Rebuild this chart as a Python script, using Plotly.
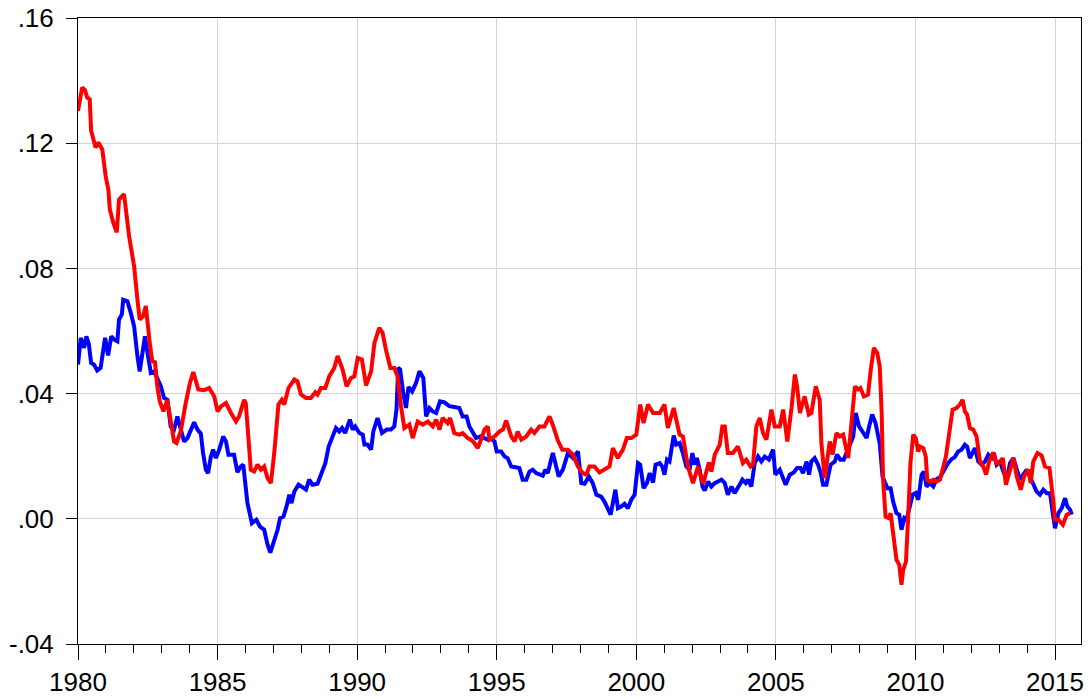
import plotly.graph_objects as go

# decimal years and values
red_t = [1980.0, 1980.15, 1980.25, 1980.33, 1980.42, 1980.47, 1980.63, 1980.73, 1980.87, 1980.99,
         1981.09, 1981.14, 1981.26, 1981.39, 1981.47, 1981.65, 1981.83, 1982.01, 1982.13, 1982.21,
         1982.33, 1982.43, 1982.57, 1982.66, 1982.76, 1982.84, 1982.93, 1983.06, 1983.20, 1983.32,
         1983.44, 1983.53, 1983.68, 1983.86, 1984.01, 1984.13, 1984.31, 1984.52, 1984.70, 1984.88,
         1985.0, 1985.12, 1985.30, 1985.48, 1985.66, 1985.77, 1985.95, 1986.01, 1986.19, 1986.31,
         1986.43, 1986.55, 1986.67, 1986.79, 1986.91, 1987.03, 1987.18, 1987.30, 1987.39, 1987.54,
         1987.75, 1987.86, 1987.99, 1988.17, 1988.34, 1988.50, 1988.58, 1988.70, 1988.86, 1989.00,
         1989.18, 1989.30, 1989.48, 1989.62, 1989.78, 1989.90, 1990.02, 1990.17, 1990.32, 1990.50,
         1990.62, 1990.79, 1990.91, 1991.03, 1991.19, 1991.33, 1991.45, 1991.57, 1991.69, 1991.87,
         1991.99, 1992.17, 1992.35, 1992.53, 1992.71, 1992.83, 1992.95, 1993.06, 1993.24, 1993.33,
         1993.48, 1993.66, 1993.78, 1993.96, 1994.08, 1994.20, 1994.32, 1994.44, 1994.56, 1994.68,
         1994.74, 1994.92, 1995.10, 1995.22, 1995.34, 1995.52, 1995.64, 1995.75, 1995.88, 1996.06,
         1996.23, 1996.35, 1996.53, 1996.71, 1996.89, 1997.01, 1997.19, 1997.35, 1997.55, 1997.73,
         1997.91, 1998.08, 1998.21, 1998.32, 1998.50, 1998.68, 1998.86, 1999.04, 1999.16, 1999.34,
         1999.52, 1999.66, 1999.82, 2000.00, 2000.14, 2000.26, 2000.42, 2000.60, 2000.84, 2001.01,
         2001.13, 2001.34, 2001.55, 2001.67, 2001.85, 2002.03, 2002.21, 2002.39, 2002.60, 2002.69,
         2002.81, 2002.99, 2003.08, 2003.17, 2003.28, 2003.46, 2003.64, 2003.82, 2003.94, 2004.09,
         2004.18, 2004.30, 2004.42, 2004.54, 2004.66, 2004.84, 2004.96, 2005.14, 2005.26, 2005.41,
         2005.56, 2005.68, 2005.76, 2005.86, 2006.03, 2006.18, 2006.27, 2006.43, 2006.57, 2006.63,
         2006.75, 2006.93, 2007.03, 2007.17, 2007.29, 2007.41, 2007.59, 2007.71, 2007.83, 2007.95,
         2008.03, 2008.15, 2008.30, 2008.40, 2008.51, 2008.63, 2008.72, 2008.79, 2008.84, 2008.93,
         2009.05, 2009.11, 2009.20, 2009.32, 2009.42, 2009.50, 2009.56, 2009.66, 2009.74, 2009.82,
         2009.92, 2010.01, 2010.10, 2010.16, 2010.28, 2010.37, 2010.42, 2010.52, 2010.64, 2010.76,
         2010.88, 2010.99, 2011.09, 2011.21, 2011.33, 2011.47, 2011.59, 2011.69, 2011.77, 2011.85,
         2011.95, 2012.07, 2012.19, 2012.31, 2012.43, 2012.53, 2012.64, 2012.79, 2012.89, 2013.00,
         2013.13, 2013.24, 2013.36, 2013.51, 2013.63, 2013.77, 2013.89, 2014.04, 2014.13, 2014.22,
         2014.37, 2014.52, 2014.64, 2014.80, 2014.92, 2015.00, 2015.12, 2015.28, 2015.42, 2015.54]
red_v = [0.1303, 0.1378, 0.137, 0.1346, 0.134, 0.124, 0.1186, 0.1202, 0.118, 0.1095,
         0.105, 0.0989, 0.0947, 0.0915, 0.102, 0.1037, 0.0903, 0.0807, 0.070, 0.0637,
         0.0647, 0.068, 0.0562, 0.0503, 0.050, 0.0423, 0.0375, 0.0343, 0.038, 0.0306,
         0.0247, 0.0242, 0.0279, 0.037, 0.0434, 0.0469, 0.0413, 0.0411, 0.0418, 0.0391,
         0.0343, 0.0359, 0.037, 0.0338, 0.0311, 0.0327, 0.038, 0.037, 0.0157, 0.0151,
         0.0173, 0.0157, 0.0167, 0.013, 0.0114, 0.021, 0.0365, 0.038, 0.0365, 0.0418,
         0.0445, 0.0439, 0.0397, 0.0386, 0.0386, 0.0404, 0.0397, 0.0418, 0.0418, 0.0455,
         0.0482, 0.052, 0.0477, 0.0423, 0.045, 0.0455, 0.0514, 0.0509, 0.0426, 0.0471,
         0.0562, 0.061, 0.0594, 0.0541, 0.0482, 0.0482, 0.0455, 0.036, 0.029, 0.0301,
         0.0258, 0.0311, 0.0301, 0.0311, 0.0295, 0.0317, 0.0285, 0.0322, 0.0306, 0.0322,
         0.0274, 0.0269, 0.0274, 0.0258, 0.0253, 0.0242, 0.0226, 0.0253, 0.0285, 0.0295,
         0.0253, 0.0263, 0.0279, 0.0285, 0.0314, 0.0263, 0.0247, 0.0279, 0.0253, 0.0263,
         0.0285, 0.0274, 0.0295, 0.0295, 0.0327, 0.030, 0.025, 0.0221, 0.0221, 0.0205,
         0.0167, 0.0146, 0.0141, 0.0167, 0.0167, 0.0148, 0.0159, 0.0167, 0.0226, 0.0194,
         0.0221, 0.0258, 0.0258, 0.0269, 0.0365, 0.0306, 0.0365, 0.0338, 0.0338, 0.0365,
         0.029, 0.0354, 0.0269, 0.0263, 0.0167, 0.0114, 0.0167, 0.0112, 0.018, 0.0151,
         0.0205, 0.0237, 0.0295, 0.0295, 0.021, 0.021, 0.0231, 0.0178, 0.0189, 0.0167,
         0.0173, 0.0295, 0.0322, 0.0274, 0.0253, 0.0349, 0.0295, 0.0295, 0.0349, 0.0247,
         0.0354, 0.0461, 0.0423, 0.0338, 0.0391, 0.0333, 0.0338, 0.0423, 0.038, 0.0242,
         0.013, 0.0247, 0.0205, 0.0274, 0.0263, 0.0269, 0.0194, 0.0306, 0.0423, 0.0413,
         0.0418, 0.0391, 0.0397, 0.0477, 0.0546, 0.053, 0.0487, 0.0338, 0.0125, 0.0007,
         0.0002, 0.0018, -0.0046, -0.0131, -0.0147, -0.0211, -0.0163, -0.0137, 0.0007, 0.0178,
         0.0269, 0.0258, 0.0215, 0.0231, 0.0226, 0.0199, 0.0125, 0.0119, 0.0125, 0.0119,
         0.0125, 0.0167, 0.0199, 0.0274, 0.0349, 0.0354, 0.0365, 0.038, 0.0343, 0.0333,
         0.029, 0.0285, 0.0263, 0.0183, 0.0167, 0.0141, 0.0183, 0.0212, 0.0178, 0.0178,
         0.0194, 0.0109, 0.0146, 0.0194, 0.0135, 0.0093, 0.0135, 0.0157, 0.0114, 0.0183,
         0.021, 0.0202, 0.0167, 0.0162, 0.0071, -0.0003, -0.0003, -0.0019, 0.0013, 0.0018]

blue_t = [1980.0, 1980.10, 1980.22, 1980.30, 1980.39, 1980.47, 1980.57, 1980.69, 1980.81, 1980.87,
          1980.97, 1981.08, 1981.19, 1981.29, 1981.41, 1981.47, 1981.57, 1981.62, 1981.77, 1981.89,
          1982.01, 1982.13, 1982.21, 1982.31, 1982.40, 1982.49, 1982.61, 1982.73, 1982.84, 1982.97,
          1983.08, 1983.20, 1983.32, 1983.44, 1983.56, 1983.68, 1983.80, 1983.92, 1984.04, 1984.16,
          1984.28, 1984.40, 1984.48, 1984.58, 1984.66, 1984.76, 1984.84, 1984.94, 1985.06, 1985.20,
          1985.30, 1985.39, 1985.59, 1985.71, 1985.83, 1985.92, 1986.07, 1986.23, 1986.39, 1986.52,
          1986.67, 1986.79, 1986.89, 1987.03, 1987.15, 1987.24, 1987.36, 1987.47, 1987.57, 1987.65,
          1987.75, 1987.90, 1988.02, 1988.17, 1988.28, 1988.40, 1988.58, 1988.70, 1988.86, 1988.98,
          1989.12, 1989.24, 1989.36, 1989.46, 1989.57, 1989.74, 1989.84, 1989.93, 1990.08, 1990.20,
          1990.26, 1990.37, 1990.50, 1990.58, 1990.73, 1990.89, 1991.06, 1991.21, 1991.33, 1991.41,
          1991.47, 1991.54, 1991.65, 1991.75, 1991.84, 1991.97, 1992.11, 1992.23, 1992.37, 1992.47,
          1992.59, 1992.71, 1992.83, 1992.97, 1993.13, 1993.30, 1993.48, 1993.66, 1993.78, 1993.92,
          1994.02, 1994.14, 1994.26, 1994.41, 1994.56, 1994.68, 1994.80, 1994.92, 1995.00, 1995.16,
          1995.28, 1995.39, 1995.52, 1995.70, 1995.81, 1995.93, 1996.06, 1996.17, 1996.29, 1996.41,
          1996.53, 1996.65, 1996.74, 1996.83, 1996.93, 1997.01, 1997.13, 1997.22, 1997.37, 1997.55,
          1997.73, 1997.91, 1998.03, 1998.15, 1998.30, 1998.44, 1998.57, 1998.74, 1998.86, 1998.98,
          1999.08, 1999.16, 1999.25, 1999.34, 1999.46, 1999.58, 1999.70, 1999.82, 1999.94, 2000.06,
          2000.14, 2000.26, 2000.38, 2000.48, 2000.60, 2000.69, 2000.84, 2000.93, 2001.01, 2001.10,
          2001.19, 2001.34, 2001.43, 2001.55, 2001.67, 2001.79, 2001.91, 2002.01, 2002.09, 2002.17,
          2002.27, 2002.37, 2002.45, 2002.57, 2002.69, 2002.81, 2002.93, 2003.05, 2003.17, 2003.28,
          2003.41, 2003.52, 2003.70, 2003.80, 2003.92, 2004.00, 2004.12, 2004.24, 2004.36, 2004.48,
          2004.60, 2004.75, 2004.90, 2004.98, 2005.14, 2005.24, 2005.35, 2005.50, 2005.64, 2005.76,
          2005.88, 2005.97, 2006.10, 2006.19, 2006.27, 2006.39, 2006.51, 2006.61, 2006.69, 2006.81,
          2006.96, 2007.11, 2007.19, 2007.31, 2007.43, 2007.55, 2007.67, 2007.77, 2007.86, 2007.98,
          2008.10, 2008.25, 2008.34, 2008.45, 2008.57, 2008.72, 2008.82, 2008.90, 2008.99, 2009.11,
          2009.20, 2009.32, 2009.42, 2009.50, 2009.60, 2009.68, 2009.78, 2009.90, 2010.01, 2010.10,
          2010.22, 2010.30, 2010.40, 2010.52, 2010.64, 2010.76, 2010.88, 2011.02, 2011.17, 2011.30,
          2011.41, 2011.53, 2011.65, 2011.77, 2011.85, 2011.95, 2012.05, 2012.13, 2012.25, 2012.37,
          2012.49, 2012.61, 2012.73, 2012.81, 2012.91, 2013.03, 2013.15, 2013.27, 2013.39, 2013.51,
          2013.63, 2013.74, 2013.86, 2013.99, 2014.10, 2014.22, 2014.34, 2014.46, 2014.58, 2014.70,
          2014.82, 2014.92, 2015.00, 2015.12, 2015.24, 2015.36, 2015.44, 2015.54, 2015.60]
blue_v = [0.0493, 0.0578, 0.0546, 0.0583, 0.0557, 0.0498, 0.0493, 0.0474, 0.0482, 0.0519,
          0.0578, 0.0522, 0.0583, 0.0573, 0.0567, 0.0637, 0.0653, 0.070, 0.0695, 0.0658,
          0.0615, 0.0519, 0.0471, 0.053, 0.0583, 0.053, 0.0466, 0.0471, 0.045, 0.0423,
          0.0386, 0.038, 0.0295, 0.0285, 0.0327, 0.029, 0.0247, 0.0258, 0.0285, 0.0308,
          0.0285, 0.0272, 0.021, 0.0157, 0.0146, 0.0199, 0.0221, 0.0194, 0.0221, 0.0263,
          0.0247, 0.0205, 0.0205, 0.0149, 0.0167, 0.0173, 0.005, -0.0014, -0.0003, -0.0025,
          -0.0035, -0.0083, -0.0108, -0.0073, -0.0035, 0.0002, 0.0007, 0.0039, 0.0077, 0.005,
          0.0087, 0.0109, 0.0103, 0.0093, 0.0125, 0.0109, 0.0112, 0.0141, 0.0178, 0.0231,
          0.0263, 0.029, 0.0279, 0.029, 0.0274, 0.0317, 0.0285, 0.0295, 0.0274, 0.0269,
          0.0237, 0.0237, 0.0221, 0.0279, 0.0322, 0.0274, 0.0285, 0.0285, 0.0295, 0.0349,
          0.0482, 0.0477, 0.0402, 0.0354, 0.0421, 0.0407, 0.0434, 0.0471, 0.045, 0.0327,
          0.0354, 0.0343, 0.0338, 0.0375, 0.0372, 0.036, 0.0357, 0.0354, 0.0327, 0.0327,
          0.0295, 0.0274, 0.0258, 0.0263, 0.0258, 0.0253, 0.0255, 0.0247, 0.0215, 0.0215,
          0.0199, 0.0194, 0.0167, 0.0162, 0.0162, 0.0125, 0.0125, 0.0151, 0.0157, 0.0146,
          0.0141, 0.0138, 0.0157, 0.0146, 0.0183, 0.021, 0.0167, 0.0135, 0.0157, 0.021,
          0.0194, 0.0215, 0.0114, 0.0112, 0.0135, 0.0114, 0.0077, 0.0071, 0.0055, 0.0029,
          0.0013, 0.005, 0.0093, 0.0034, 0.0039, 0.0048, 0.0034, 0.0061, 0.0077, 0.0178,
          0.0173, 0.0098, 0.0114, 0.0146, 0.0116, 0.0173, 0.0178, 0.0167, 0.0141, 0.0189,
          0.0183, 0.0266, 0.0237, 0.0242, 0.021, 0.0167, 0.0157, 0.021, 0.0173, 0.0194,
          0.0157, 0.0103, 0.009, 0.0119, 0.0103, 0.0114, 0.0119, 0.0125, 0.0114, 0.0077,
          0.0103, 0.0082, 0.0109, 0.0125, 0.0114, 0.0125, 0.0103, 0.0178, 0.0199, 0.0183,
          0.0199, 0.0189, 0.0221, 0.0141, 0.0157, 0.013, 0.0109, 0.0141, 0.0148, 0.0162,
          0.0162, 0.0146, 0.0183, 0.0141, 0.0183, 0.0194, 0.0173, 0.0146, 0.0109, 0.0109,
          0.0173, 0.0183, 0.0205, 0.0189, 0.0189, 0.0215, 0.0242, 0.0263, 0.0338, 0.0295,
          0.0279, 0.0258, 0.0295, 0.0333, 0.0306, 0.024, 0.0135, 0.0119, 0.0098, 0.0098,
          0.0055, 0.0018, 0.0013, -0.0035, 0.0002, -0.0003, 0.0029, 0.0077, 0.0082, 0.0061,
          0.0141, 0.0151, 0.0103, 0.0114, 0.0103, 0.0127, 0.0133, 0.0157, 0.0178, 0.0191,
          0.0197, 0.0215, 0.0221, 0.0237, 0.0231, 0.0194, 0.021, 0.0226, 0.0183, 0.0173,
          0.0183, 0.0205, 0.0194, 0.021, 0.0173, 0.0183, 0.0151, 0.0125, 0.0178, 0.0194,
          0.0157, 0.0125, 0.0141, 0.0157, 0.0135, 0.0114, 0.0087, 0.0077, 0.0093, 0.0082,
          0.0082, 0.0018, -0.003, 0.0018, 0.0034, 0.0066, 0.0039, 0.0029, 0.0013]

y_ticks = [-0.04, 0.0, 0.04, 0.08, 0.12, 0.16]
y_tick_labels = ["-.04", ".00", ".04", ".08", ".12", ".16"]

FONT = "Liberation Sans, Arial, Helvetica, sans-serif"

fig = go.Figure()
fig.add_trace(go.Scatter(x=blue_t, y=blue_v, mode="lines",
                         line=dict(color="#0000FF", width=4), showlegend=False))
fig.add_trace(go.Scatter(x=red_t, y=red_v, mode="lines",
                         line=dict(color="#FF0000", width=4), showlegend=False))

fig.update_layout(
    width=1092, height=699,
    margin=dict(l=78, r=11, t=18, b=55),
    paper_bgcolor="white", plot_bgcolor="white",
    font=dict(family=FONT, size=26, color="black"),
)
fig.update_xaxes(
    range=[1980, 2015.93], tick0=1980, dtick=5, tickformat="d", automargin=False,
    ticks="outside", ticklen=15, tickwidth=1, tickcolor="black",
    showline=True, linecolor="black", linewidth=1, mirror=True,
    showgrid=True, gridcolor="#d4d4d4", gridwidth=1, zeroline=False,
    minor=dict(dtick=1, tick0=1980, ticks="outside", ticklen=8, tickcolor="black", showgrid=False),
    tickfont=dict(family=FONT, size=26),
)
fig.update_yaxes(
    range=[-0.04, 0.16], tickvals=y_ticks, ticktext=y_tick_labels, automargin=False,
    ticks="outside", ticklen=11, tickwidth=1, tickcolor="black", ticklabelstandoff=7,
    showline=True, linecolor="black", linewidth=1, mirror=True,
    showgrid=True, gridcolor="#d4d4d4", gridwidth=1, zeroline=False,
    tickfont=dict(family=FONT, size=26),
)

fig.write_html(
    "out.html",
    config={"displayModeBar": False},
    post_script="document.body.style.margin='0';document.body.style.overflow='hidden';",
)
